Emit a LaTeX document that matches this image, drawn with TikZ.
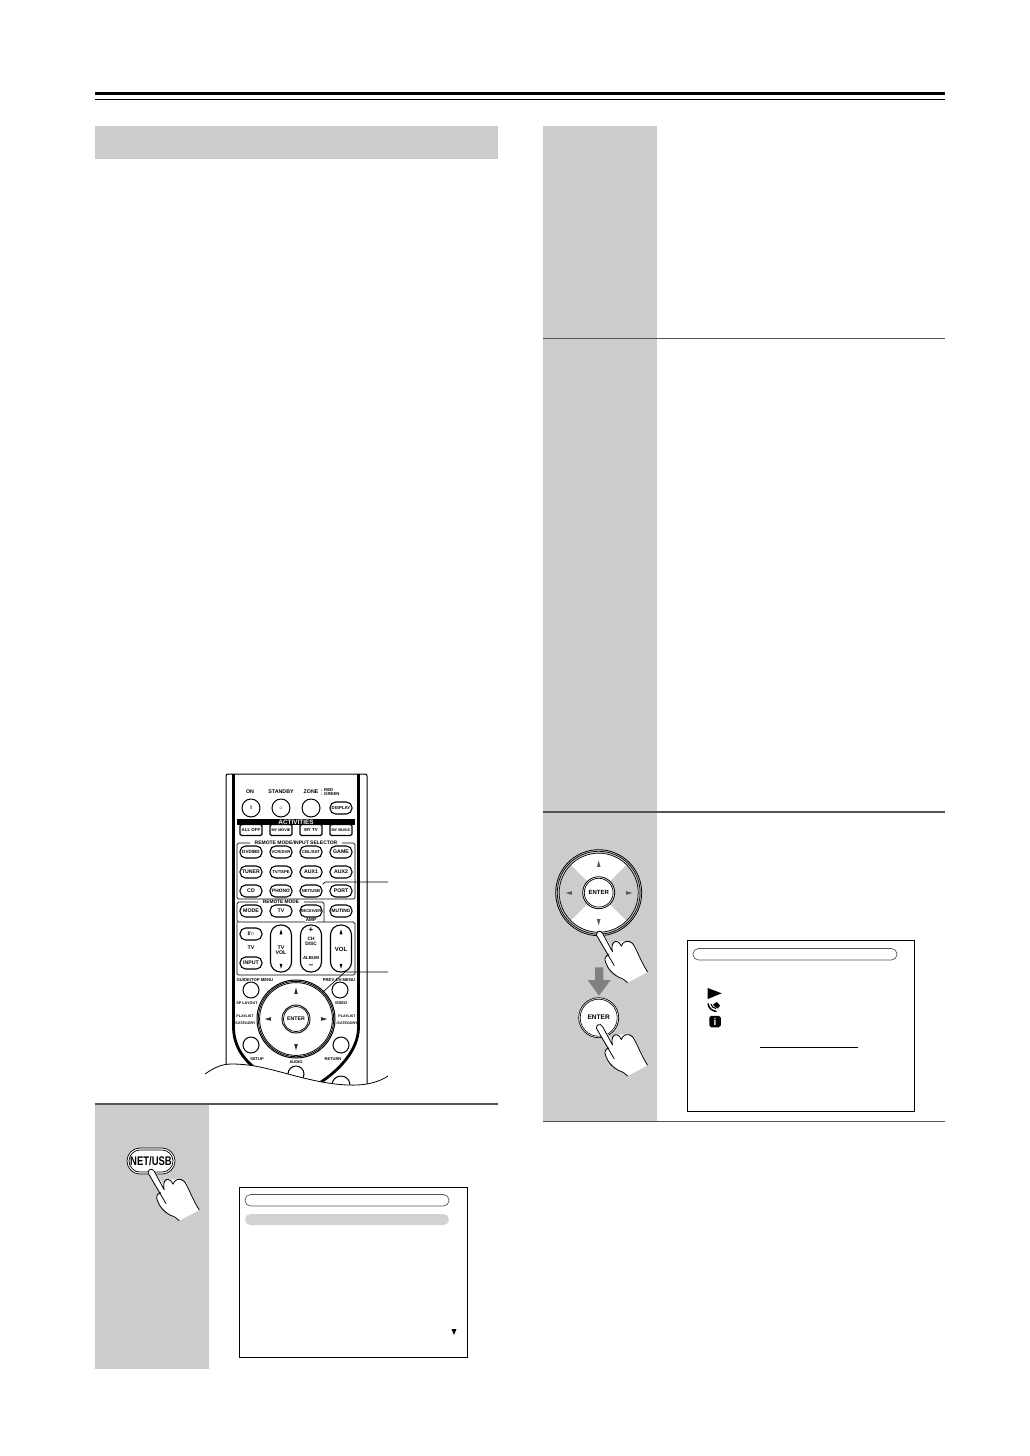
\documentclass[tikz,border=0pt]{standalone}
\usepackage{fontspec}
\setmainfont{Liberation Sans}
\tikzset{
panel/.style={fill=panelgray,draw=none},
rule/.style={draw=rulegray,line width=1.6pt},
pill/.style={draw,rectangle,rounded corners=5.6pt,minimum width=22pt,minimum height=12pt,inner sep=0pt,line width=1.1pt,font=\fontsize{5.2}{5}\bfseries},
keybox/.style={draw,rectangle,rounded corners=1.5pt,minimum width=22pt,minimum height=11pt,inner sep=0pt,line width=1.1pt,font=\fontsize{4.4}{5}\bfseries},
tall/.style={draw,rectangle,rounded corners=10pt,minimum width=21pt,minimum height=47pt,inner sep=0pt,line width=1.1pt},
key/.style={draw,circle,minimum size=16pt,inner sep=0pt,line width=1pt},
tag/.style={inner sep=0pt,align=center,font=\fontsize{5.3}{5.6}\bfseries},
grp/.style={draw,rounded corners=1.5pt,line width=.7pt},
screen/.style={draw,line width=.9pt,fill=white},
bar/.style={draw=rulegray,line width=.7pt,rounded corners=5.5pt},
tipup/.pic={\fill[pic actions] (0,-3.4)--(1.8,2.8)--(-1.8,2.8)--cycle;},
hand/.pic={
\fill[white] (0,-3)--(-3,3)--(10,22)--(5.7,26)--(7.3,32.7)--(19,44.3)--(28.3,50)--(48.3,39.3)--(40.7,24.3)--(35.7,12.7)--(28.3,8.7)--(17.3,8.7)--(12,14)--(4,1)--cycle;
\draw[line width=.8pt,line join=round] (15,33)--(-2.7,2.6) .. controls (-4,-.5) and (1,-4) .. (3.4,.8)--(13.2,19)
.. controls (11.5,12) and (14,8) .. (17.3,8.7) .. controls (19.5,9) and (21,11) .. (22,13.5)
.. controls (23,9) and (29,6.5) .. (33,10.5) .. controls (37,15) and (40,26) .. (48.3,39.3);
\draw[line width=.8pt,line join=round] (10,22) .. controls (6,22.5) and (4.5,26) .. (6.5,30) .. controls (9,37) and (13,41) .. (19,44.3) .. controls (23,46) and (26,47) .. (28.3,50);
}
}
\definecolor{panelgray}{HTML}{CCCCCC}
\definecolor{rulegray}{HTML}{555555}
\definecolor{pillgray}{HTML}{D2D2D2}
\definecolor{arrowgray}{HTML}{808080}
\begin{document}
\begin{tikzpicture}[x=1pt,y=-1pt]
\useasboundingbox (0,0) rectangle (1030,1456);
% page head
\fill (95,92) rectangle (945,95);
\fill (95,99) rectangle (945,100);
\fill[panelgray] (95,126) rectangle (498,159);
% panels
\fill[panelgray] (543,126) rectangle (657,1121);
\fill[panelgray] (95,1104) rectangle (209,1369);
\draw[rule] (543,338.5) -- (945,338.5);
\draw[rule] (543,812) -- (945,812);
\draw[rule] (543,1121.5) -- (945,1121.5);
\draw[rule] (95,1104) -- (498,1104);
% remote body
\draw[line width=1pt,rounded corners=2pt] (226,1075) -- (226,774) -- (367,774) -- (367,1090);
\draw[line width=2.8pt] (233.5,774) -- (233.5,1028) .. controls (234,1045) and (242,1058) .. (255,1068);
\draw[line width=2.8pt] (358.5,774) -- (358.5,1028) .. controls (358,1050) and (340,1070) .. (318,1084);
% first row
\node[tag] (onlab) at (250,792) {ON};
\node[tag] (stbylab) at (281,792) {STANDBY};
\node[tag] (zonelab) at (311,792) {ZONE};
\node[tag,anchor=west,font=\fontsize{4.3}{4.8}\bfseries,align=left] (zonecol) at (321,792) {: RED\\: GREEN};
\node[key,minimum size=18pt] (on) at (251,808) {};
\node[tag] (onbar) at (251,808) {I};
\node[key,minimum size=18pt] (stby) at (281,808) {};
\node[tag] (stbyring) at (281,808) {$\circ$};
\node[key,minimum size=18pt] (zone) at (311,808) {};
\node[pill,font=\fontsize{4.4}{5}\bfseries] (disp) at (341,808) {DISPLAY};
% activities
\fill (237,819) rectangle (355,825);
\node[tag,text=white,font=\fontsize{6.4}{6}\bfseries] (act) at (296,822) {ACTIVITIES};
\node[keybox] (alloff) at (251,830) {ALL OFF};
\node[keybox,font=\fontsize{3.8}{5}\bfseries] (mymovie) at (281,830) {MY MOVIE};
\node[keybox] (mytv) at (311,830) {MY TV};
\node[keybox,font=\fontsize{3.8}{5}\bfseries] (mymusic) at (341,830) {MY MUSIC};
% input selector
\draw[grp] (250,843) -- (237,843) -- (237,899) -- (355,899) -- (355,843) -- (342,843);
\node[tag,font=\fontsize{5}{5}\bfseries] (sellab) at (296,843) {REMOTE MODE/INPUT SELECTOR};
\node[pill,font=\fontsize{4.6}{5}\bfseries] (dvd) at (251,852) {DVD/BD};
\node[pill,font=\fontsize{4.2}{5}\bfseries] (vcr) at (281,852) {VCR/DVR};
\node[pill,font=\fontsize{4.2}{5}\bfseries] (cbl) at (311,852) {CBL/SAT};
\node[pill] (game) at (341,852) {GAME};
\node[pill] (tuner) at (251,872) {TUNER};
\node[pill,font=\fontsize{4.2}{5}\bfseries] (tvtape) at (281,872) {TV/TAPE};
\node[pill] (auxa) at (311,872) {AUX1};
\node[pill] (auxb) at (341,872) {AUX2};
\node[pill] (cd) at (251,891) {CD};
\node[pill,font=\fontsize{4.8}{5}\bfseries] (phono) at (281,891) {PHONO};
\node[pill,font=\fontsize{4.2}{5}\bfseries] (netusb) at (311,891) {NET/USB};
\node[pill] (port) at (341,891) {PORT};
% remote mode
\draw[grp] (258,902) -- (237,902) -- (237,922) -- (355,922) -- (355,975) -- (237,975) -- (237,922);
\draw[grp] (304,902) -- (324,902) -- (324,922);
\node[tag,font=\fontsize{4.8}{5}\bfseries] (modelab) at (281,902) {REMOTE MODE};
\node[pill] (mode) at (251,911) {MODE};
\node[pill] (tvbtn) at (281,911) {TV};
\node[pill,font=\fontsize{4}{5}\bfseries] (recv) at (311,911) {RECEIVER};
\node[pill,font=\fontsize{4.8}{5}\bfseries] (muting) at (341,911) {MUTING};
\node[tag,fill=white,inner sep=.5pt,font=\fontsize{4.6}{5}\bfseries] (amp) at (311,920) {AMP};
% volume block
\node[pill,font=\fontsize{5.6}{5}\bfseries] (powtv) at (251,934) {I/$\circ$};
\node[tag] (tvlab) at (251,948) {TV};
\node[pill] (input) at (251,963) {INPUT};
\node[tall] (tvvol) at (281,948.5) {};
\node[tag] (tvvollab) at (281,950) {TV\\VOL};
\pic[fill=black,scale=.8] at (281,932) {tipup};
\pic[fill=black,scale=.8,rotate=180] at (281,966) {tipup};
\node[tall] (chdisc) at (311,948.5) {};
\node[tag,font=\fontsize{8}{8}\bfseries] (chplus) at (311,930) {+};
\node[tag,font=\fontsize{4.8}{5}\bfseries] (chlab) at (311,941.5) {CH\\DISC};
\node[tag,font=\fontsize{4.4}{5}\bfseries] (alb) at (311,958) {ALBUM};
\node[tag,font=\fontsize{8}{8}\bfseries] (chminus) at (311,966.5) {--};
\node[tall] (vol) at (341,948.5) {};
\node[tag,font=\fontsize{6}{6}\bfseries] (vollab) at (341,949) {VOL};
\pic[fill=black,scale=.8] at (341,932) {tipup};
\pic[fill=black,scale=.8,rotate=180] at (341,966) {tipup};
% cursor block
\node[tag,font=\fontsize{4.2}{5}\bfseries] (guide) at (255,980) {GUIDE/TOP MENU};
\node[tag,font=\fontsize{4.2}{5}\bfseries] (prev) at (339,980) {PREV CH MENU};
\node[key] (guidekey) at (251,990) {};
\node[key] (prevkey) at (340,990) {};
\node[tag,font=\fontsize{3.8}{5}\bfseries] (sp) at (247,1003) {SP LAYOUT};
\node[tag,font=\fontsize{4}{5}\bfseries] (video) at (341,1003) {VIDEO};
\node[draw,circle,minimum size=78pt,inner sep=0pt,line width=1pt,fill=white] (dial) at (296,1019) {};
\draw[line width=.8pt] (dial.center) circle[radius=37.7pt];
\draw[line width=.8pt] (dial.center) circle[radius=36.4pt];
\node[draw,circle,minimum size=28pt,inner sep=0pt,line width=.9pt] (enter) at (296,1019) {};
\draw[line width=.7pt] (enter.center) circle[radius=12.6pt];
\node[tag,font=\fontsize{5.2}{5}\bfseries] (enterlab) at (296,1019) {ENTER};
\pic[fill=black!80] at (296,991) {tipup};
\pic[fill=black!80,rotate=180] at (296,1047) {tipup};
\pic[fill=black!80,rotate=90] at (268,1019) {tipup};
\pic[fill=black!80,rotate=-90] at (324,1019) {tipup};
\node[tag,font=\fontsize{3.6}{7}\bfseries] (plleft) at (245,1019.5) {PLAYLIST\\/CATEGORY};
\node[tag,font=\fontsize{3.6}{7}\bfseries] (plright) at (347,1019.5) {PLAYLIST\\/CATEGORY};
\node[key] (setupkey) at (251,1045) {};
\node[key] (retkey) at (341,1045) {};
\node[tag,font=\fontsize{4}{5}\bfseries] (setup) at (257,1059) {SETUP};
\node[tag,font=\fontsize{4}{5}\bfseries] (audio) at (296,1062) {AUDIO};
\node[tag,font=\fontsize{4}{5}\bfseries] (ret) at (333,1059) {RETURN};
\node[key] (audiokey) at (296,1074) {};
\node[key,minimum size=18pt] (lastkey) at (341,1085) {};
% cut line of the remote
\fill[white] (205,1074) .. controls (215,1067) and (222,1064) .. (232,1064) .. controls (262,1064) and (285,1075) .. (322,1082) .. controls (345,1086) and (370,1088) .. (388,1076) -- (388,1100) -- (205,1100) -- cycle;
\draw[line width=.8pt] (205,1074) .. controls (215,1067) and (222,1064) .. (232,1064) .. controls (262,1064) and (285,1075) .. (322,1082) .. controls (345,1086) and (370,1088) .. (388,1076);
% leaders
\coordinate (ldrA) at (388,882);
\coordinate (ldrAb) at (325,882);
\coordinate (ldrB) at (388,972);
\coordinate (ldrBb) at (345,972);
\draw[line width=.7pt] (ldrA) -- (ldrAb) -- (netusb.north east);
\draw[line width=.7pt] (ldrB) -- (ldrBb) -- (dial.north east);
% step one
\node[draw,rectangle,rounded corners=12.9pt,minimum width=48pt,minimum height=26pt,inner sep=0pt,line width=.7pt,fill=white] (netbig) at (151,1161) {};
\draw[line width=.7pt,rounded corners=11pt] (129,1150) rectangle (173,1172);
\node[inner sep=0pt,font=\fontsize{12.5}{13}\bfseries,xscale=.76] (netlab) at (151,1161) {NET/USB};
\pic at (151,1170.7) {hand};
\draw[screen] (239,1187) rectangle (467,1357);
\draw[bar] (245,1194.5) rectangle (449,1206);
\fill[pillgray,rounded corners=5.5pt] (245,1214) rectangle (449,1225);
\fill (451.5,1329) -- (456.5,1329) -- (454,1335) -- cycle;
% step three
\fill[white] (598.7,892.7) circle[radius=39.5pt];
\fill[panelgray] (598.7,892.7) -- ++(45:39.5pt) arc[start angle=45,end angle=-45,radius=39.5pt] -- cycle;
\fill[panelgray] (598.7,892.7) -- ++(135:39.5pt) arc[start angle=135,end angle=225,radius=39.5pt] -- cycle;
\node[draw,circle,minimum size=86pt,inner sep=0pt,line width=.8pt] (dialbig) at (598.7,892.7) {};
\draw[line width=.7pt] (dialbig.center) circle[radius=41.4pt];
\draw[line width=.7pt] (dialbig.center) circle[radius=39.5pt];
\node[draw,circle,minimum size=32pt,inner sep=0pt,line width=.8pt,fill=white] (enterbig) at (598.7,892.7) {};
\draw[line width=.7pt] (enterbig.center) circle[radius=14.4pt];
\node[inner sep=0pt,font=\fontsize{6}{6}\bfseries] (enterbiglab) at (598.7,892.7) {ENTER};
\pic[fill=arrowgray!70!black] at (598.7,864) {tipup};
\pic[fill=arrowgray!70!black,rotate=180] at (598.7,922) {tipup};
\pic[fill=arrowgray!70!black,rotate=90] at (569,893) {tipup};
\pic[fill=arrowgray!70!black,rotate=-90] at (629,893) {tipup};
\pic at (599.3,932.7) {hand};
\fill[arrowgray] (595,967.3) -- (603.3,967.3) -- (603.3,980) -- (610.7,980) -- (599,995.7) -- (587.7,980) -- (595,980) -- cycle;
\node[draw,circle,minimum size=40pt,inner sep=0pt,line width=.7pt,fill=white] (enterkey) at (598.7,1017.7) {};
\draw[line width=.6pt] (enterkey.center) circle[radius=18.5pt];
\node[inner sep=0pt,font=\fontsize{6.6}{7}\bfseries] (enterkeylab) at (598.7,1017.7) {ENTER};
\pic at (599.3,1026) {hand};
\draw[screen] (687.3,940.3) rectangle (914.7,1111.7);
\draw[bar] (693,948.5) rectangle (897,960);
\fill (707.7,988) -- (721.7,993.3) -- (707.7,999) -- cycle;
% dish icon
\draw[line width=1.5pt] (708,1003.5) .. controls (708.5,1008) and (712,1011) .. (716.5,1011.5);
\draw[line width=1.1pt] (711,1004) .. controls (711.5,1006.5) and (713,1008) .. (716,1008.5);
\fill (715,1007) -- (713,1004.5) -- (717,1002) -- (720,1005.5) -- (718,1008.5) -- cycle;
\node[fill=black,rectangle,rounded corners=1.8pt,minimum size=11.5pt,inner sep=0pt,text=white,font=\fontsize{10}{10}\bfseries] (infoicon) at (715,1021.5) {i};
\draw[line width=.8pt] (760,1047.3) -- (858,1047.3);
\end{tikzpicture}
\end{document}
